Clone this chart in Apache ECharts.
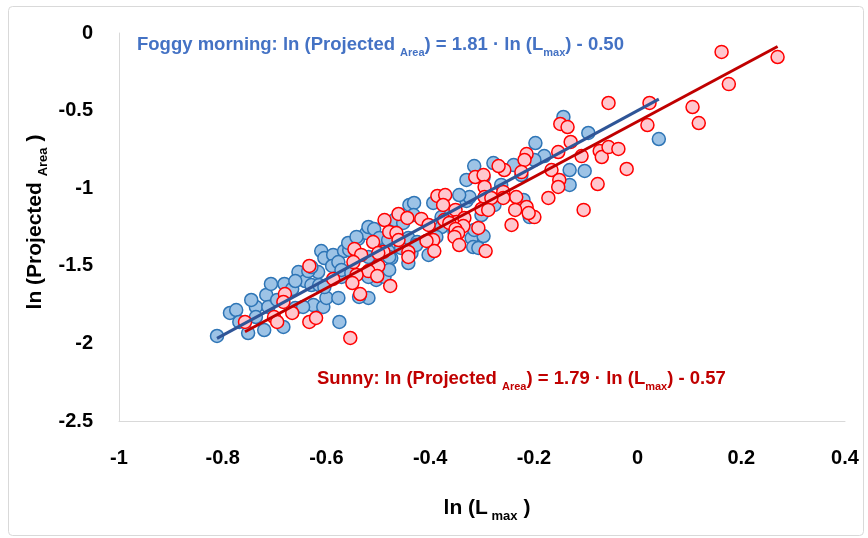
<!DOCTYPE html>
<html><head><meta charset="utf-8">
<script src="https://cdn.jsdelivr.net/npm/echarts@6/dist/echarts.min.js"></script>
<style>html,body{margin:0;padding:0;background:#fff}#c{width:868px;height:538px}</style>
</head><body><div id="c"></div>
<script>
// ---- data ----
const xTickValues = [-1, -0.8, -0.6, -0.4, -0.2, 0, 0.2, 0.4];
const yTickValues = [-2.5, -2, -1.5, -1, -0.5, 0];

const foggyX = [-0.811,-0.786,-0.774,-0.751,-0.736,-0.720,-0.683,-0.716,-0.707,-0.681,-0.666,-0.712,-0.654,-0.641,-0.660,-0.629,-0.614,-0.625,-0.606,-0.600,-0.577,-0.575,-0.610,-0.604,-0.587,-0.566,-0.589,-0.571,-0.616,-0.539,-0.519,-0.504,-0.490,-0.736,-0.768,-0.645,-0.660,-0.635,-0.577,-0.571,-0.556,-0.523,-0.519,-0.508,-0.498,-0.519,-0.519,-0.481,-0.475,-0.456,-0.469,-0.452,-0.442,-0.442,-0.440,-0.481,-0.315,-0.278,-0.239,-0.431,-0.330,-0.301,-0.320,-0.297,-0.317,-0.479,-0.436,-0.403,-0.378,-0.218,-0.208,-0.324,-0.143,-0.095,-0.197,-0.180,-0.199,-0.131,-0.102,-0.131,-0.224,-0.220,0.041,-0.425,-0.388,-0.558,-0.542,-0.432,-0.427,-0.353,-0.307,-0.315,-0.629,-0.604,-0.552,-0.537,-0.510,-0.488,-0.479,-0.394,-0.378,-0.330,-0.297,-0.359,-0.344,-0.263,-0.276,-0.695,-0.745];
const foggyY = [-1.952,-1.804,-1.785,-1.933,-1.765,-1.914,-1.894,-1.688,-1.617,-1.617,-1.649,-1.765,-1.540,-1.598,-1.772,-1.624,-1.624,-1.753,-1.765,-1.707,-1.707,-1.862,-1.405,-1.450,-1.430,-1.405,-1.501,-1.572,-1.540,-1.327,-1.707,-1.591,-1.334,-1.830,-1.862,-1.765,-1.598,-1.534,-1.476,-1.527,-1.398,-1.289,-1.250,-1.263,-1.321,-1.443,-1.572,-1.405,-1.450,-1.385,-1.205,-1.224,-1.321,-1.482,-1.108,-1.334,-0.857,-0.838,-0.851,-1.095,-1.082,-1.173,-1.321,-1.308,-1.379,-1.443,-1.418,-1.430,-1.250,-1.121,-1.186,-1.057,-0.541,-0.644,-0.709,-0.793,-0.818,-0.883,-0.889,-0.979,-0.915,-1.076,-0.683,-1.347,-1.314,-1.353,-1.314,-1.173,-1.366,-1.282,-1.385,-1.269,-1.508,-1.637,-1.546,-1.701,-1.527,-1.572,-1.527,-1.095,-1.186,-0.947,-0.928,-1.153,-1.044,-0.979,-1.108,-1.720,-1.720];

const sunnyX = [0.162,0.270,0.176,0.118,0.106,-0.056,0.023,0.019,-0.073,-0.069,-0.056,-0.037,-0.021,-0.077,-0.104,-0.108,-0.149,-0.135,-0.129,-0.153,-0.214,-0.218,-0.257,-0.224,-0.166,-0.151,-0.153,-0.172,-0.234,-0.259,-0.259,-0.214,-0.236,-0.199,-0.210,-0.243,-0.268,-0.313,-0.297,-0.295,-0.386,-0.371,-0.295,-0.282,-0.375,-0.301,-0.288,-0.351,-0.488,-0.461,-0.444,-0.417,-0.373,-0.349,-0.334,-0.363,-0.336,-0.403,-0.351,-0.346,-0.307,-0.479,-0.465,-0.461,-0.394,-0.407,-0.353,-0.344,-0.442,-0.442,-0.392,-0.293,-0.490,-0.510,-0.546,-0.500,-0.533,-0.548,-0.500,-0.519,-0.502,-0.542,-0.633,-0.587,-0.550,-0.535,-0.477,-0.757,-0.680,-0.683,-0.701,-0.695,-0.666,-0.633,-0.620,-0.554];
const sunnyY = [-0.122,-0.155,-0.329,-0.580,-0.477,-0.451,-0.451,-0.593,-0.760,-0.799,-0.735,-0.747,-0.876,-0.973,-1.140,-0.793,-0.586,-0.606,-0.702,-0.767,-0.780,-0.818,-0.883,-0.896,-0.883,-0.947,-0.992,-1.063,-1.057,-1.024,-1.063,-1.121,-1.140,-1.186,-1.160,-1.237,-0.857,-0.928,-0.915,-0.992,-1.050,-1.044,-1.057,-1.063,-1.108,-1.134,-1.140,-1.140,-1.205,-1.166,-1.192,-1.198,-1.205,-1.218,-1.192,-1.224,-1.244,-1.237,-1.263,-1.289,-1.256,-1.282,-1.289,-1.334,-1.334,-1.340,-1.314,-1.366,-1.411,-1.443,-1.405,-1.405,-1.411,-1.347,-1.392,-1.418,-1.430,-1.476,-1.501,-1.534,-1.566,-1.559,-1.501,-1.585,-1.611,-1.682,-1.630,-1.862,-1.682,-1.733,-1.830,-1.862,-1.804,-1.862,-1.836,-1.965];

// trend line end points
const foggyTrendX = [-0.811, 0.041];
const foggyTrendY = [-1.968, -0.426];
const sunnyTrendX = [-0.757, 0.270];
const sunnyTrendY = [-1.925, -0.087];

// ---- chart ----
const FONT = "'Liberation Sans', sans-serif";
const zip = (a, b) => a.map((v, i) => [v, b[i]]);
const fmt = v => String(Math.round(v * 10) / 10);

const chart = echarts.init(document.getElementById('c'), null, {renderer: 'canvas'});
const subStyle = (color, size) => ({
  t: {fontFamily: FONT, fontWeight: 'bold', fontSize: size, fill: color, color: color, lineHeight: size + 4, verticalAlign: 'top'},
  s: {fontFamily: FONT, fontWeight: 'bold', fontSize: Math.round(size * 0.62), fill: color, color: color, lineHeight: Math.round(size * 0.62) + 2, verticalAlign: 'bottom'}
});

chart.setOption({
  animation: false,
  backgroundColor: '#fff',
  grid: {left: 119, right: 23, top: 33, bottom: 117, containLabel: false},
  xAxis: {
    type: 'value', min: xTickValues[0], max: xTickValues[xTickValues.length - 1], interval: 0.2,
    axisLine: {show: true, onZero: false, lineStyle: {color: '#D9D9D9', width: 1}},
    axisTick: {show: false}, splitLine: {show: false},
    axisLabel: {margin: 27, fontSize: 20, fontWeight: 'bold', color: '#000', fontFamily: FONT, formatter: fmt}
  },
  yAxis: {
    type: 'value', min: yTickValues[0], max: yTickValues[yTickValues.length - 1], interval: 0.5,
    axisLine: {show: true, onZero: false, lineStyle: {color: '#D9D9D9', width: 1}},
    axisTick: {show: false}, splitLine: {show: false},
    axisLabel: {margin: 26, fontSize: 20, fontWeight: 'bold', color: '#000', fontFamily: FONT, formatter: fmt}
  },
  series: [
    {type: 'scatter', name: 'Foggy morning', data: zip(foggyX, foggyY), symbol: 'circle', symbolSize: 13,
     itemStyle: {color: '#9DC3E6', borderColor: '#2E75B6', borderWidth: 1.5, opacity: 1}, z: 2},
    {type: 'scatter', name: 'Sunny', data: zip(sunnyX, sunnyY), symbol: 'circle', symbolSize: 13,
     itemStyle: {color: '#FFC7CE', borderColor: '#FF0000', borderWidth: 1.5, opacity: 1}, z: 3},
    {type: 'line', data: zip(foggyTrendX, foggyTrendY), symbol: 'none', lineStyle: {color: '#2F5597', width: 3}, z: 4, silent: true},
    {type: 'line', data: zip(sunnyTrendX, sunnyTrendY), symbol: 'none', lineStyle: {color: '#C00000', width: 3}, z: 5, silent: true}
  ],
  graphic: [
    {type: 'rect', left: 6, top: 4, shape: {width: 855, height: 529, r: 4}, style: {fill: 'none', stroke: '#D9D9D9', lineWidth: 1}, silent: true, z: -1},
    {type: 'text', x: 137, y: 47, style: {text: '{t|Foggy morning: ln (Projected }{s|Area}{t|) = 1.81 · ln (L}{s|max}{t|) - 0.50}', rich: subStyle('#4472C4', 18.5), align: 'left', verticalAlign: 'middle'}},
    {type: 'text', x: 317, y: 381, style: {text: '{t|Sunny: ln (Projected }{s|Area}{t|) = 1.79 · ln (L}{s|max}{t|) - 0.57}', rich: subStyle('#C00000', 18.5), align: 'left', verticalAlign: 'middle'}},
    {type: 'text', x: 37, y: 222, rotation: Math.PI / 2, style: {text: '{t|ln (Projected }{s|Area}{t| )}', rich: subStyle('#000', 21), align: 'center', verticalAlign: 'middle'}},
    {type: 'text', x: 487, y: 510, style: {text: '{t|ln (L}{s| max}{t| )}', rich: subStyle('#000', 21), align: 'center', verticalAlign: 'middle'}}
  ]
});
</script></body></html>
